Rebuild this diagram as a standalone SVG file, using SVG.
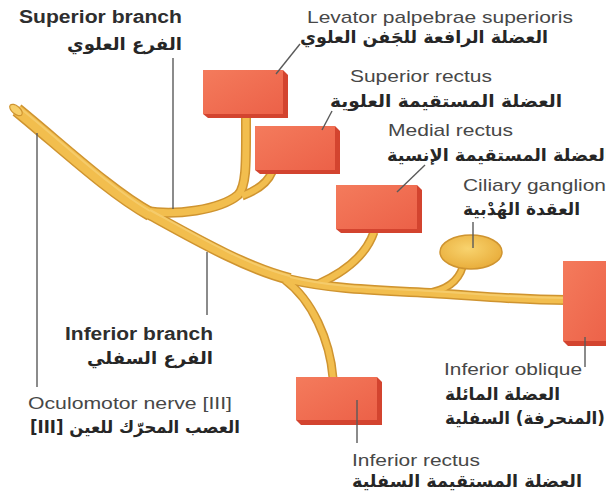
<svg xmlns="http://www.w3.org/2000/svg" width="606" height="496" viewBox="0 0 606 496">
<style>
.en{font-family:"Liberation Sans",Arial,sans-serif;font-size:17px;fill:#474747}
.enb{font-family:"Liberation Sans",Arial,sans-serif;font-size:18px;font-weight:bold;fill:#2e2e2e}
.ar{font-family:"DejaVu Sans",sans-serif;font-size:17px;font-weight:bold;fill:#262626;direction:rtl;text-anchor:start}
.lead{stroke:#5a5a5a;stroke-width:1.4;fill:none}
.nO{fill:none;stroke:#cf9430;stroke-linecap:butt}
.nI{fill:none;stroke:#f2be4e;stroke-linecap:butt}
.nH{fill:none;stroke:#f8d57e;stroke-linecap:butt;stroke-width:2;opacity:.6}
.face{fill:url(#boxg)}
.side{fill:#d3442f}
</style>
<defs>
<linearGradient id="boxg" x1="0" y1="0" x2="1" y2="1">
<stop offset="0" stop-color="#f47b5c"/>
<stop offset="1" stop-color="#ec6148"/>
</linearGradient>
<radialGradient id="gang" cx=".45" cy=".4" r=".6">
<stop offset="0" stop-color="#f8d36e"/>
<stop offset="1" stop-color="#e9ae3c"/>
</radialGradient>
</defs>
<rect width="606" height="496" fill="#ffffff"/>

<g id="connectors">
<g id="nerve-outline" class="nO">
<path d="M17,110 C60,145 110,192 150,214" stroke-width="14"/>
<path d="M148,213 C190,236 245,268 290,279" stroke-width="12"/>
<path d="M288,279 C335,290 380,290 430,293 S520,300 566,300" stroke-width="10"/>
<path d="M146,211 C175,216 220,210 238,195 C247,186 246,160 246,116" stroke-width="10"/>
<path d="M242,196 C258,190 268,182 272,172" stroke-width="9"/>
<path d="M318,284 C345,272 366,255 374,232" stroke-width="9"/>
<path d="M285,280 C312,300 330,340 333,378" stroke-width="9"/>
<path d="M425,293 C445,291 458,283 463,266" stroke-width="8"/>
</g>
<g id="nerve-fill" class="nI">
<path d="M17,110 C60,145 110,192 150,214" stroke-width="11"/>
<path d="M148,213 C190,236 245,268 290,279" stroke-width="9"/>
<path d="M288,279 C335,290 380,290 430,293 S520,300 566,300" stroke-width="7"/>
<path d="M146,211 C175,216 220,210 238,195 C247,186 246,160 246,116" stroke-width="7"/>
<path d="M242,196 C258,190 268,182 272,172" stroke-width="6"/>
<path d="M318,284 C345,272 366,255 374,232" stroke-width="6"/>
<path d="M285,280 C312,300 330,340 333,378" stroke-width="6"/>
<path d="M425,293 C445,291 458,283 463,266" stroke-width="5"/>
</g>
<g id="nerve-highlight" class="nH">
<path d="M20,108 C62,142 112,189 150,211"/>
<path d="M150,210 C192,233 246,265 290,276"/>
<path d="M290,277 C335,288 380,288 430,291 S520,298 566,298"/>
</g>
<ellipse cx="16" cy="110" rx="4" ry="7.5" transform="rotate(-50 16 110)" fill="#f7cf6a" stroke="#cf9430" stroke-width="1.2"/>
</g>

<g id="ciliary-ganglion">
<ellipse cx="471" cy="252" rx="31" ry="17" fill="url(#gang)" stroke="#cf9430" stroke-width="1.5"/>
</g>

<g id="levator-box">
<polygon class="side" points="283,70 288,75 288,118 208,118 203,114"/>
<rect class="face" x="203" y="70" width="80" height="44"/>
</g>
<g id="superior-rectus-box">
<polygon class="side" points="335,126 340,131 340,174 260,174 255,170"/>
<rect class="face" x="255" y="126" width="80" height="44"/>
</g>
<g id="medial-rectus-box">
<polygon class="side" points="417,185 422,190 422,233 341,233 336,229"/>
<rect class="face" x="336" y="185" width="81" height="44"/>
</g>
<g id="inferior-oblique-box">
<polygon class="side" points="611,261 616,266 616,346 568,346 563,341"/>
<rect class="face" x="563" y="261" width="48" height="80"/>
</g>
<g id="inferior-rectus-box">
<polygon class="side" points="377,377 382,382 382,425 301,425 296,420"/>
<rect class="face" x="296" y="377" width="81" height="43"/>
</g>

<g id="leaders">
<line class="lead" x1="173" y1="58" x2="173" y2="209"/>
<line class="lead" x1="300" y1="44" x2="276" y2="74"/>
<line class="lead" x1="332" y1="111" x2="322" y2="130"/>
<line class="lead" x1="425" y1="165" x2="397" y2="192"/>
<line class="lead" x1="473" y1="222" x2="473" y2="248"/>
<line class="lead" x1="585" y1="337" x2="585" y2="367"/>
<line class="lead" x1="357" y1="400" x2="357" y2="443"/>
<line class="lead" x1="207" y1="252" x2="207" y2="315"/>
<line class="lead" x1="37" y1="133" x2="37" y2="387"/>
</g>

<g id="label-superior-branch">
<text class="enb" x="19" y="23" textLength="163" lengthAdjust="spacingAndGlyphs">Superior branch</text>
<text class="ar" x="182" y="50" textLength="115" lengthAdjust="spacingAndGlyphs">الفرع العلوي</text>
</g>
<g id="label-levator">
<text class="en" x="307" y="23" textLength="266" lengthAdjust="spacingAndGlyphs">Levator palpebrae superioris</text>
<text class="ar" x="548" y="43" textLength="248" lengthAdjust="spacingAndGlyphs">العضلة الرافعة للجَفن العلوي</text>
</g>
<g id="label-superior-rectus">
<text class="en" x="350" y="82" textLength="142" lengthAdjust="spacingAndGlyphs">Superior rectus</text>
<text class="ar" x="562" y="107" textLength="232" lengthAdjust="spacingAndGlyphs">العضلة المستقيمة العلوية</text>
</g>
<g id="label-medial-rectus">
<text class="en" x="388" y="136" textLength="125" lengthAdjust="spacingAndGlyphs">Medial rectus</text>
<text class="ar" x="611" y="161" textLength="224" lengthAdjust="spacingAndGlyphs">العضلة المستقيمة الإنسية</text>
</g>
<g id="label-ciliary-ganglion">
<text class="en" x="463" y="191" textLength="143" lengthAdjust="spacingAndGlyphs">Ciliary ganglion</text>
<text class="ar" x="580" y="215" textLength="117" lengthAdjust="spacingAndGlyphs">العقدة الهُدْبية</text>
</g>
<g id="label-inferior-branch">
<text class="enb" x="65" y="340" textLength="148" lengthAdjust="spacingAndGlyphs">Inferior branch</text>
<text class="ar" x="213" y="364" textLength="126" lengthAdjust="spacingAndGlyphs">الفرع السفلي</text>
</g>
<g id="label-oculomotor">
<text class="en" x="28" y="409" textLength="204" lengthAdjust="spacingAndGlyphs">Oculomotor nerve [III]</text>
<text class="ar" x="240" y="433" textLength="210" lengthAdjust="spacingAndGlyphs">العصب المحرّك للعين [III]</text>
</g>
<g id="label-inferior-oblique">
<text class="en" x="444" y="375" textLength="138" lengthAdjust="spacingAndGlyphs">Inferior oblique</text>
<text class="ar" x="560" y="400" textLength="115" lengthAdjust="spacingAndGlyphs">العضلة المائلة</text>
<text class="ar" x="605" y="424" textLength="160" lengthAdjust="spacingAndGlyphs">(المنحرفة) السفلية</text>
</g>
<g id="label-inferior-rectus">
<text class="en" x="352" y="466" textLength="128" lengthAdjust="spacingAndGlyphs">Inferior rectus</text>
<text class="ar" x="582" y="487" textLength="230" lengthAdjust="spacingAndGlyphs">العضلة المستقيمة السفلية</text>
</g>
</svg>
